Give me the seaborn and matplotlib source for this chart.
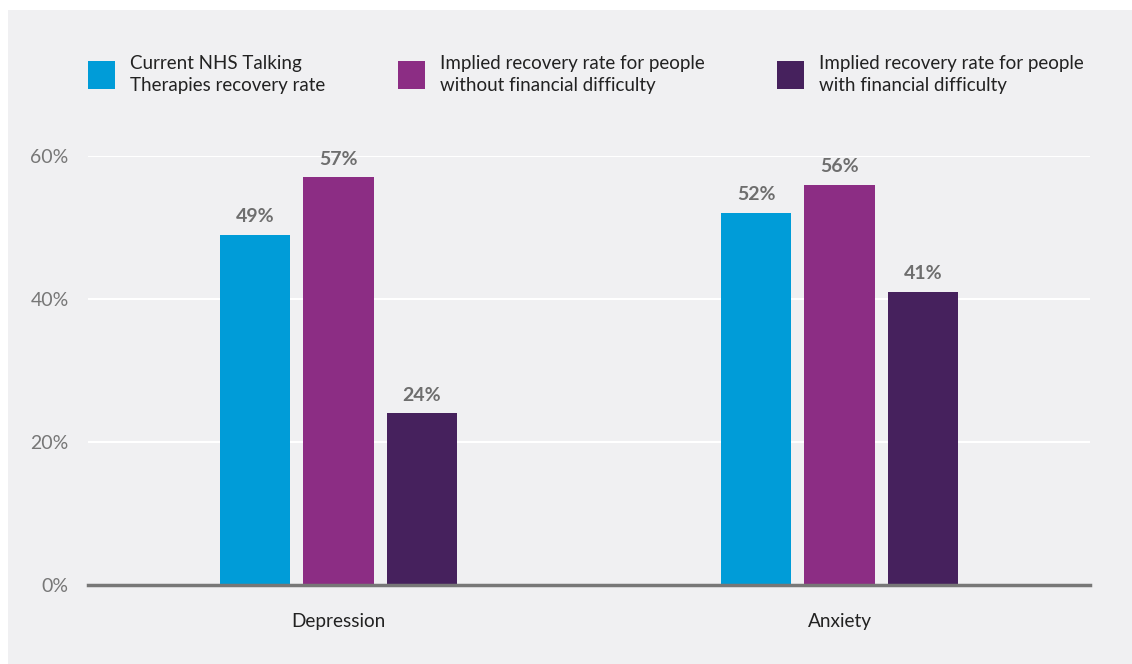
import matplotlib
matplotlib.use("Agg")
import matplotlib.pyplot as plt
from matplotlib.patches import Patch, Rectangle
import seaborn as sns
import pandas as pd

# Data
conditions = ["Depression", "Anxiety"]
series = [
    "Current NHS Talking\nTherapies recovery rate",
    "Implied recovery rate for people\nwithout financial difficulty",
    "Implied recovery rate for people\nwith financial difficulty",
]
depression_rates = [49, 57, 24]
anxiety_rates = [52, 56, 41]
y_ticks = [0, 20, 40, 60]
y_tick_labels = ["0%", "20%", "40%", "60%"]
colors = ["#009cd8", "#8c2d84", "#46215d"]

df = pd.DataFrame({
    "condition": [c for c in conditions for _ in series],
    "series": series * len(conditions),
    "rate": depression_rates + anxiety_rates,
})

sns.set_theme(style="white")
plt.rcParams["font.family"] = ["Lato", "DejaVu Sans"]

BG = "#f0f0f2"
fig = plt.figure(figsize=(11.32, 6.64), dpi=100, facecolor="white")
fig.patches.append(Rectangle((8 / 1132, 0), 1, 1 - 10 / 664, transform=fig.transFigure,
                             facecolor=BG, edgecolor="none", zorder=-10))

ax = fig.add_axes([88 / 1132, 1 - 585 / 664, (1090 - 88) / 1132, (585 - 156) / 664])
ax.set_facecolor(BG)

sns.barplot(data=df, x="condition", y="rate", hue="series", palette=colors,
            width=0.5, gap=0.15, saturation=1, legend=False, ax=ax, zorder=3,
            linewidth=0, edgecolor="none")

ax.set_xlim(-0.5, 1.5)
ax.set_ylim(0, 60)
ax.set_yticks(y_ticks)
ax.set_yticklabels(y_tick_labels)
ax.set_xlabel("")
ax.set_ylabel("")
ax.yaxis.grid(True, color="white", linewidth=1.5, zorder=0)
ax.set_axisbelow(True)
for side in ["top", "right", "left"]:
    ax.spines[side].set_visible(False)
ax.spines["bottom"].set_color("#777777")
ax.spines["bottom"].set_linewidth(2.5)
ax.spines["bottom"].set_zorder(5)

ax.tick_params(axis="y", length=0, pad=14, labelsize=14, labelcolor="#777777")
ax.tick_params(axis="x", length=0, pad=20, labelsize=13.7, labelcolor="#222222")

# Value labels above each bar
for container in ax.containers:
    ax.bar_label(container, labels=[f"{v:.0f}%" for v in container.datavalues],
                 padding=7, fontsize=14, fontweight="bold", color="#6e6e6e",
                 clip_on=False)

handles = [Patch(facecolor=c, edgecolor="none") for c in colors]
leg = fig.legend(handles, series, ncol=3, loc="upper left",
                 bbox_to_anchor=(71 / 1132, 1 - 38 / 664), frameon=False,
                 fontsize=13.5, labelcolor="#222222", handlelength=1.45, handleheight=1.9,
                 handletextpad=0.8, columnspacing=3.85, labelspacing=0.2)
for t in leg.get_texts():
    t.set_linespacing(1.35)

fig.savefig("out.png", dpi=100, facecolor="white")
